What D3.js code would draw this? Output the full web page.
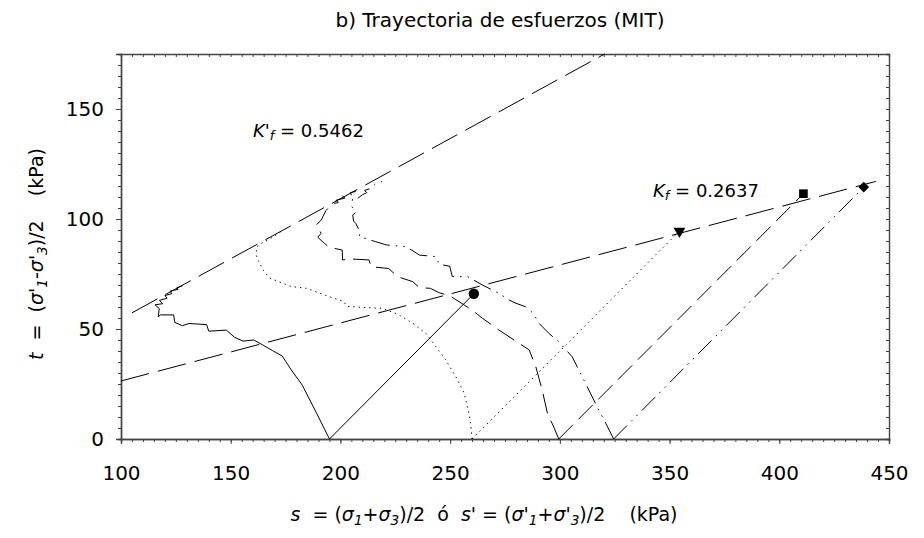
<!DOCTYPE html>
<html>
<head>
<meta charset="utf-8">
<script src="https://cdn.jsdelivr.net/npm/d3@7"></script>
<style>
  body { margin: 0; background: #fff; }
  svg text { font-family: "DejaVu Sans", sans-serif; fill: #000; white-space: pre; }
</style>
</head>
<body>
<svg id="chart" width="924" height="538"></svg>
<script>
// ---- data -------------------------------------------------------------
const xTicks = [100, 150, 200, 250, 300, 350, 400, 450];
const yTicks = [0, 50, 100, 150];

// failure envelopes (t = K * s)
const kfSlope = 0.2637;        // total stresses
const kfPrimeSlope = 0.5462;   // effective stresses
const kfRange = [100, 444];
const kfPrimeRange = [105, 320.4];

// effective stress paths (s', t)
const solidEff = [[195,0],[189,12],[182.6,24.5],[177.6,31.4],[173.5,37.7],[169,40.2],[164.7,42.7],[160.5,45],
  [155.6,44.5],[151.8,46.2],[148,49.5],[140,49],[139,52],[131,52.5],[128,51.5],[124.5,53],[124,56.4],
  [118,56.4],[117,55.6],[117.4,59.4],[115.5,61],[119,61.5],[117.5,63],[121,64],[120,65.2],[123,66],
  [122.5,67.3],[126,68],[125.5,68.8],[128,69.6]];
const dottedEff = [[260,0],[259.3,7],[258.6,11.7],[256.4,20.8],[252.6,28.3],[248,35.9],[243.5,42],[239,48],
  [233,52.6],[226,56.8],[219,59.4],[210,59.8],[203,60.3],[201.5,62.5],[195,64.7],[190,66.5],[184.5,68.5],
  [177.6,69.3],[172,71.5],[167.7,73.2],[165,76.5],[162.4,81.4],[161.5,84],[162,87.5],[165,89.5],
  [168,91],[171,93],[174,95]];
const dashedEff = [[299.5,0],[297,6],[294.5,11],[292,22],[289,33],[286,40.5],[281.4,43.5],[272.3,49.5],
  [264.7,54.9],[260.2,58.5],[250,65],[245,66.5],[241,68.5],[236,68.8],[233,71.5],[226,73.8],[222,77.5],
  [214,78.3],[213,81.4],[205,81.8],[201,81.4],[200.8,85.9],[195,87.1],[192.7,88.9],[189.7,91.7],
  [191.2,93.5],[189,97.3],[191.2,99.5],[193.5,104],[196.5,107],[199,107.5],[198,108.5],[202,109.5],
  [201,110.5],[205,111],[204.5,112],[207,112.5]];
const dashDotEff = [[324.5,0],[321,7],[317.7,13.2],[311.7,25.3],[305.6,37.4],[299.5,44.2],[295,48],
  [290.5,52.6],[288,57],[284.4,60.1],[280,61.7],[276.8,63.2],[272.3,66.2],[264.7,70],[258,73.8],
  [251,73.8],[249.8,78.5],[245,79.5],[243.5,82.9],[236,83.6],[230,87.4],[221,88.2],[216,89.7],
  [208.6,92],[209,94],[207,98],[206,99],[205.6,101.8],[207,103],[205,106],[205.6,109.4],[208,109.5],
  [210,111],[212,112],[211,113],[214,114],[216,116],[219,117]];

// total stress paths (start on the s axis, end at failure)
const solidTot = [[195,0],[260.8,66]];
const dottedTot = [[260,0],[354.5,94.5]];
const dashedTot = [[299.5,0],[411,111.5]];
const dashDotTot = [[324.5,0],[438.5,114.5]];

// ---- layout -----------------------------------------------------------
const svg = d3.select("#chart");
const x = d3.scaleLinear().domain([100, 450]).range([121, 889]);
const y = d3.scaleLinear().domain([0, 175]).range([439, 54]);
const axisColor = "#444";

const minorX = d3.range(100, 451, 5);
const minorY = d3.range(0, 176, 5);

function styleAxis(g) {
  g.select(".domain").attr("stroke", axisColor).attr("stroke-width", 1.4);
  g.selectAll(".tick line").attr("stroke", axisColor).attr("stroke-width", 1);
  g.selectAll(".tick text").attr("font-size", 20).attr("font-family", "DejaVu Sans").attr("fill", "#000");
}

// minor ticks (all four sides)
svg.append("g").attr("transform", `translate(0,${y(0)})`)
  .call(d3.axisBottom(x).tickValues(minorX).tickSize(3).tickFormat(""))
  .call(styleAxis);
svg.append("g").attr("transform", `translate(${x(100)},0)`)
  .call(d3.axisLeft(y).tickValues(minorY).tickSize(3).tickFormat(""))
  .call(styleAxis);
svg.append("g").attr("transform", `translate(0,${y(175)})`)
  .call(d3.axisTop(x).tickValues(minorX).tickSize(-3).tickFormat(""))
  .call(styleAxis);
svg.append("g").attr("transform", `translate(${x(450)},0)`)
  .call(d3.axisRight(y).tickValues(minorY).tickSize(-3).tickFormat(""))
  .call(styleAxis);

// major ticks with labels
svg.append("g").attr("transform", `translate(0,${y(0)})`)
  .call(d3.axisBottom(x).tickValues(xTicks).tickSize(5).tickPadding(22).tickFormat(d3.format("d")))
  .call(styleAxis);
svg.append("g").attr("transform", `translate(${x(100)},0)`)
  .call(d3.axisLeft(y).tickValues(yTicks).tickSize(5).tickPadding(12).tickFormat(d3.format("d")))
  .call(styleAxis);

// ---- lines ------------------------------------------------------------
const line = d3.line().x(d => x(d[0])).y(d => y(d[1]));
const plot = svg.append("g");

function path(data, dash) {
  plot.append("path").datum(data)
    .attr("d", line)
    .attr("fill", "none")
    .attr("stroke", "#000")
    .attr("stroke-width", 1)
    .attr("stroke-dasharray", dash);
}

// failure envelopes
path(kfRange.map(s => [s, kfSlope * s]), "29,9");
path(kfPrimeRange.map(s => [s, kfPrimeSlope * s]), "29,9");

const styles = {
  solid: null,
  dotted: "1.3,4",
  dashed: "20,8",
  dashDot: "19,6,1.5,6,1.5,6"
};

path(solidEff, styles.solid);
path(solidTot, styles.solid);
path(dottedEff, styles.dotted);
path(dottedTot, styles.dotted);
path(dashedEff, styles.dashed);
path(dashedTot, styles.dashed);
path(dashDotEff, styles.dashDot);
path(dashDotTot, styles.dashDot);

// failure markers at the end of each total stress path
const markers = [
  { p: solidTot[1], type: d3.symbolCircle, size: 85, rot: 0 },
  { p: dottedTot[1], type: d3.symbolTriangle, size: 60, rot: 180 },
  { p: dashedTot[1], type: d3.symbolSquare, size: 75, rot: 0 },
  { p: dashDotTot[1], type: d3.symbolSquare, size: 58, rot: 45 }
];
plot.selectAll(".marker").data(markers).join("path")
  .attr("class", "marker")
  .attr("d", m => d3.symbol().type(m.type).size(m.size)())
  .attr("transform", m => `translate(${x(m.p[0])},${y(m.p[1])}) rotate(${m.rot})`)
  .attr("fill", "#000");

// ---- text -------------------------------------------------------------
svg.append("text")
  .attr("x", 500).attr("y", 27)
  .attr("text-anchor", "middle")
  .attr("font-size", 20)
  .text("b) Trayectoria de esfuerzos (MIT)");

function richText(sel, parts, size) {
  parts.forEach(p => {
    const t = sel.append("tspan").text(p.t);
    if (p.i) t.attr("font-style", "italic");
    if (p.sub) t.attr("font-size", size * 0.72).attr("baseline-shift", "-25%");
  });
}

const kfpLabel = svg.append("text").attr("x", 253).attr("y", 137).attr("font-size", 18);
richText(kfpLabel, [{ t: "K'", i: true }, { t: "f", i: true, sub: true }, { t: " = 0.5462" }], 18);

const kfLabel = svg.append("text").attr("x", 653).attr("y", 197).attr("font-size", 18);
richText(kfLabel, [{ t: "K", i: true }, { t: "f", i: true, sub: true }, { t: " = 0.2637" }], 18);

const yLabel = svg.append("text")
  .attr("transform", "translate(43,254) rotate(-90)")
  .attr("text-anchor", "middle")
  .attr("font-size", 19);
richText(yLabel, [
  { t: "t", i: true }, { t: "  =  (" }, { t: "σ'", i: true }, { t: "1", i: true, sub: true },
  { t: "-" }, { t: "σ'", i: true }, { t: "3", i: true, sub: true }, { t: ")/2    (kPa)" }
], 19);

const xLabel = svg.append("text")
  .attr("x", 484).attr("y", 521)
  .attr("text-anchor", "middle")
  .attr("font-size", 19);
richText(xLabel, [
  { t: "s", i: true }, { t: "  = (" }, { t: "σ", i: true }, { t: "1", i: true, sub: true },
  { t: "+" }, { t: "σ", i: true }, { t: "3", i: true, sub: true }, { t: ")/2  ó  " },
  { t: "s'", i: true }, { t: " = (" }, { t: "σ'", i: true }, { t: "1", i: true, sub: true },
  { t: "+" }, { t: "σ'", i: true }, { t: "3", i: true, sub: true }, { t: ")/2    (kPa)" }
], 19);
</script>
</body>
</html>
